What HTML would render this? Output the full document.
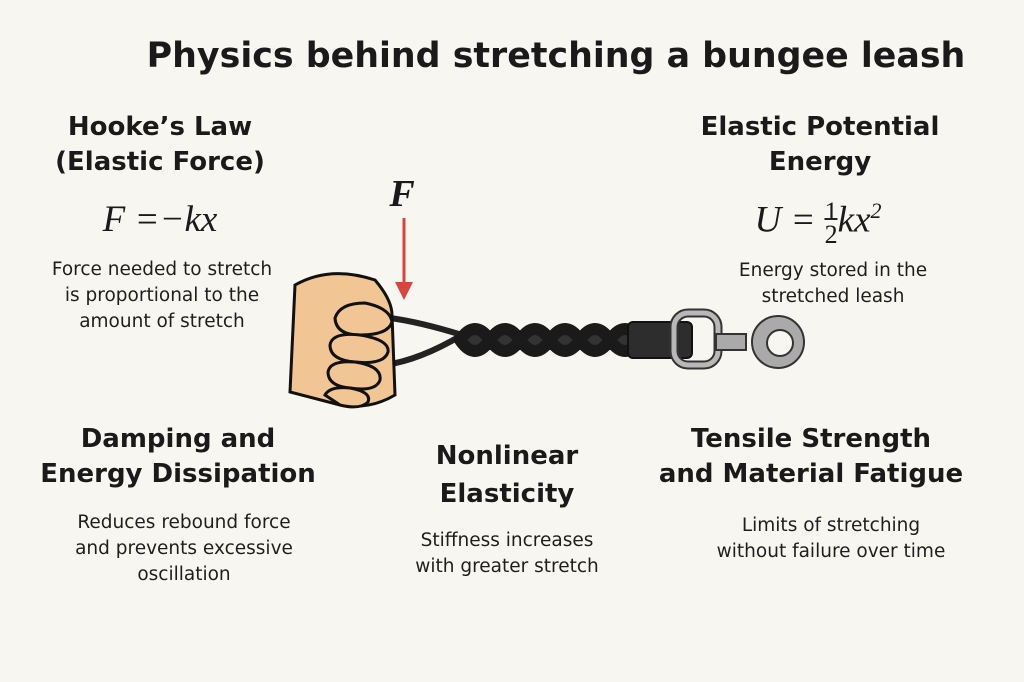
<!DOCTYPE html>
<html><head><style>
body{margin:0;width:1024px;height:682px;background:#f8f6f1;font-family:"DejaVu Sans","Liberation Sans",sans-serif;color:#1a1a1a;position:relative;overflow:hidden}
.t{position:absolute;text-align:center;white-space:nowrap;transform:translateX(-50%)}
.h{font-weight:bold;font-size:26px;line-height:35px}
.d{font-size:18.5px;line-height:26px;color:#1e1e1e}
.m{font-family:"Liberation Serif",serif;font-style:italic;font-size:37px}
</style></head><body>
<div class="t" style="left:556px;top:36px;font-size:34.8px;font-weight:bold">Physics behind stretching a bungee leash</div>
<div class="t h" style="left:160px;top:110px">Hooke’s Law<br>(Elastic Force)</div>
<div class="t m" style="left:160px;top:198px">F =−kx</div>
<div class="t d" style="left:162px;top:257px">Force needed to stretch<br>is proportional to the<br>amount of stretch</div>
<div class="t h" style="left:820px;top:110px">Elastic Potential<br>Energy</div>
<div class="t m" style="left:818px;top:198px">U = <span style="display:inline-block;font-size:26px;line-height:23px;vertical-align:middle;text-align:center;font-style:normal">1<br><span style="border-top:2px solid #222">2</span></span>kx<sup style="font-size:22px">2</sup></div>
<div class="t d" style="left:833px;top:258px">Energy stored in the<br>stretched leash</div>
<div class="t h" style="left:178px;top:422px">Damping and<br>Energy Dissipation</div>
<div class="t d" style="left:184px;top:510px">Reduces rebound force<br>and prevents excessive<br>oscillation</div>
<div class="t h" style="left:507px;top:437px;line-height:38px">Nonlinear<br>Elasticity</div>
<div class="t d" style="left:507px;top:528px">Stiffness increases<br>with greater stretch</div>
<div class="t h" style="left:811px;top:422px">Tensile Strength<br>and Material Fatigue</div>
<div class="t d" style="left:831px;top:513px">Limits of stretching<br>without failure over time</div>
<div class="t m" style="left:402px;top:172px;font-weight:bold;font-size:38px">F</div>
<svg width="1024" height="682" style="position:absolute;left:0;top:0">
<line x1="404" y1="218" x2="404" y2="285" stroke="#d9443c" stroke-width="3"/>
<polygon points="395,282 413,282 404,300" fill="#d9443c"/>
<path d="M390,318 Q420,322 462,335 Q420,360 385,365" fill="none" stroke="#222" stroke-width="6"/>
<path d="M460,340 Q475,318 490,340 Q505,318 520,340 Q535,318 550,340 Q565,318 580,340 Q595,318 610,340 Q625,318 640,340 Q625,362 610,340 Q595,362 580,340 Q565,362 550,340 Q535,362 520,340 Q505,362 490,340 Q475,362 460,340 Z" fill="#333" stroke="#1a1a1a" stroke-width="12" stroke-linejoin="round"/>
<rect x="628" y="322" width="64" height="36" rx="5" fill="#2d2d2d" stroke="#111" stroke-width="2"/>
<rect x="674" y="313" width="44" height="52" rx="14" fill="none" stroke="#333" stroke-width="9"/>
<rect x="674" y="313" width="44" height="52" rx="14" fill="none" stroke="#b8b8b8" stroke-width="5"/>
<rect x="716" y="334" width="30" height="16" fill="#aaa" stroke="#333" stroke-width="2"/>
<circle cx="778" cy="342" r="26" fill="#aaa" stroke="#333" stroke-width="2"/>
<circle cx="780" cy="343" r="13" fill="#f8f6f1" stroke="#333" stroke-width="2"/>
<path d="M295,285 Q330,265 375,280 Q392,300 392,315 L395,395 Q370,410 340,405 L290,392 Z" fill="#f2c595" stroke="#111" stroke-width="3"/>
<path d="M335,318 Q340,303 365,303 Q390,308 392,322 Q388,335 360,335 Q336,335 335,318 Z" fill="#f2c595" stroke="#111" stroke-width="3"/>
<path d="M330,345 Q332,332 360,335 Q390,340 388,352 Q384,365 355,362 Q330,360 330,345 Z" fill="#f2c595" stroke="#111" stroke-width="3"/>
<path d="M328,372 Q330,360 355,362 Q382,366 380,380 Q376,392 350,388 Q328,386 328,372 Z" fill="#f2c595" stroke="#111" stroke-width="3"/>
<path d="M325,395 Q330,386 350,388 Q372,392 368,402 Q360,410 340,405 Z" fill="#f2c595" stroke="#111" stroke-width="3"/>
</svg>
</body></html>
